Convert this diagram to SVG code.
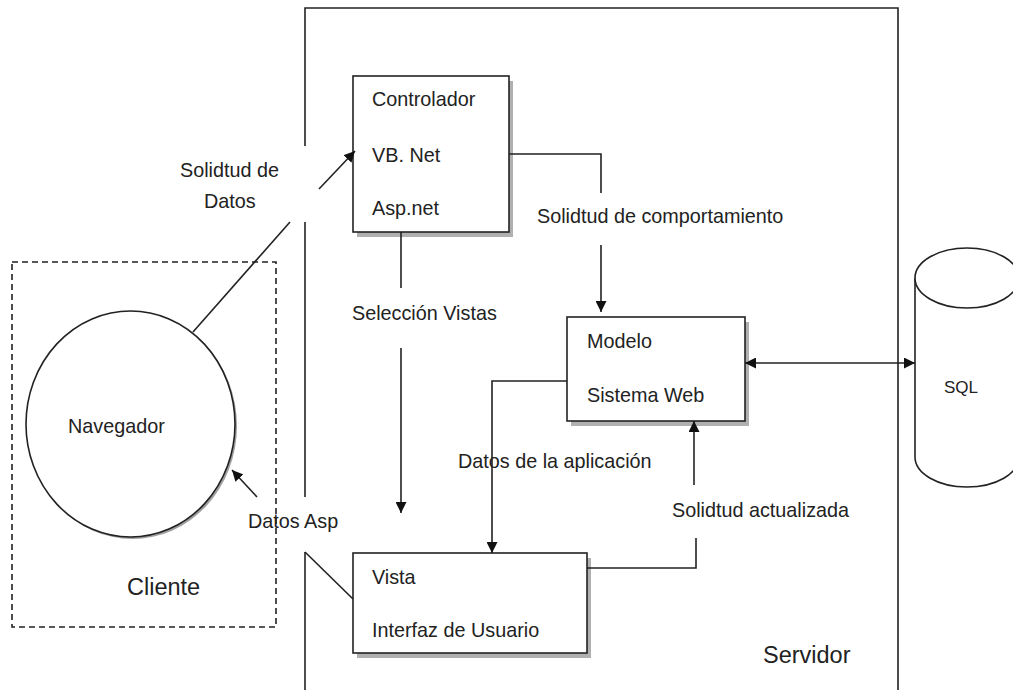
<svg xmlns="http://www.w3.org/2000/svg" width="1013" height="690" viewBox="0 0 1013 690">
  <style>
    .ln { fill: none; stroke: #222; stroke-width: 1.6; }
    .box { fill: #fff; stroke: #222; stroke-width: 1.6; }
    .shadow { fill: #b0b0b0; }
    .lbl { font-family: "Liberation Sans", Arial, sans-serif; font-size: 19.8px; fill: #222; }
    .big { font-size: 23.5px; }
    .sql { font-size: 17px; }
  </style>
  <defs>
    <marker id="arrow" viewBox="0 0 10 10" refX="10" refY="5" markerWidth="11" markerHeight="11" markerUnits="userSpaceOnUse" orient="auto-start-reverse">
      <path d="M0,0 L10,5 L0,10 Z" fill="#111"/>
    </marker>
  </defs>

  <rect width="1013" height="690" fill="#fff"/>

  <!-- Servidor boundary (open at the bottom, broken where flows cross) -->
  <g id="servidor">
    <path class="ln" d="M305,146 V8 H898 V690"/>
    <path class="ln" d="M305,222 V497"/>
    <path class="ln" d="M305,552 V690"/>
    <text class="lbl big" x="763" y="663">Servidor</text>
  </g>

  <!-- Cliente boundary -->
  <g id="cliente">
    <rect x="12" y="262" width="264" height="365" fill="none" stroke="#222" stroke-width="1.6" stroke-dasharray="6,4"/>
    <text class="lbl big" x="127" y="595">Cliente</text>
  </g>

  <!-- Navegador -->
  <g id="navegador">
    <ellipse cx="132.5" cy="426" rx="104.5" ry="113" fill="#a0a0a0"/>
    <ellipse cx="130.5" cy="424" rx="104.5" ry="113" class="box"/>
    <text class="lbl" x="68" y="433">Navegador</text>
  </g>

  <!-- Controlador -->
  <g id="controlador">
    <rect class="shadow" x="357" y="81" width="156" height="156"/>
    <rect class="box" x="353" y="76" width="156" height="156"/>
    <text class="lbl" x="372" y="106">Controlador</text>
    <text class="lbl" x="372" y="162">VB. Net</text>
    <text class="lbl" x="372" y="215">Asp.net</text>
  </g>

  <!-- Modelo -->
  <g id="modelo">
    <rect class="shadow" x="571" y="322" width="178" height="104"/>
    <rect class="box" x="567" y="317" width="178" height="104"/>
    <text class="lbl" x="587" y="348">Modelo</text>
    <text class="lbl" x="587" y="402">Sistema Web</text>
  </g>

  <!-- Vista -->
  <g id="vista">
    <rect class="shadow" x="357" y="558" width="234" height="100"/>
    <rect class="box" x="353" y="553" width="234" height="100"/>
    <text class="lbl" x="372" y="584">Vista</text>
    <text class="lbl" x="372" y="637">Interfaz de Usuario</text>
  </g>

  <!-- SQL database -->
  <g id="sql">
    <path class="box" d="M915,278 V457 A52,30 0 0 0 1019,457 V278"/>
    <ellipse class="box" cx="967" cy="278" rx="52" ry="30"/>
    <text class="lbl sql" x="944" y="393">SQL</text>
  </g>

  <!-- Flows -->
  <g id="connectors">
    <!-- Solidtud de Datos: Navegador -> Controlador -->
    <path class="ln" d="M193,332 L290,222"/>
    <path class="ln" d="M319,189 L355,151" marker-end="url(#arrow)"/>
    <text class="lbl" x="180" y="177">Solidtud de</text>
    <text class="lbl" x="204" y="208">Datos</text>

    <!-- Datos Asp: Vista -> Navegador -->
    <path class="ln" d="M353,599 L305,552"/>
    <path class="ln" d="M257,497 L232,470" marker-end="url(#arrow)"/>
    <text class="lbl" x="248" y="528">Datos Asp</text>

    <!-- Solidtud de comportamiento: Controlador -> Modelo -->
    <path class="ln" d="M509,154 H601 V193"/>
    <path class="ln" d="M601,245 V312" marker-end="url(#arrow)"/>
    <text class="lbl" x="537" y="223">Solidtud de comportamiento</text>

    <!-- Selección Vistas: Controlador -> Vista -->
    <path class="ln" d="M401,232 V288"/>
    <path class="ln" d="M401,348 V513" marker-end="url(#arrow)"/>
    <text class="lbl" x="352" y="320">Selección Vistas</text>

    <!-- Datos de la aplicación: Modelo -> Vista -->
    <path class="ln" d="M567,381 H492 V553" marker-end="url(#arrow)"/>
    <text class="lbl" x="458" y="468">Datos de la aplicación</text>

    <!-- Solidtud actualizada: Vista -> Modelo -->
    <path class="ln" d="M587,568 H696 V538"/>
    <path class="ln" d="M694,485 V421" marker-end="url(#arrow)"/>
    <text class="lbl" x="672" y="517">Solidtud actualizada</text>

    <!-- Modelo <-> SQL -->
    <path class="ln" d="M745,363 H915" marker-start="url(#arrow)" marker-end="url(#arrow)"/>
  </g>
</svg>
